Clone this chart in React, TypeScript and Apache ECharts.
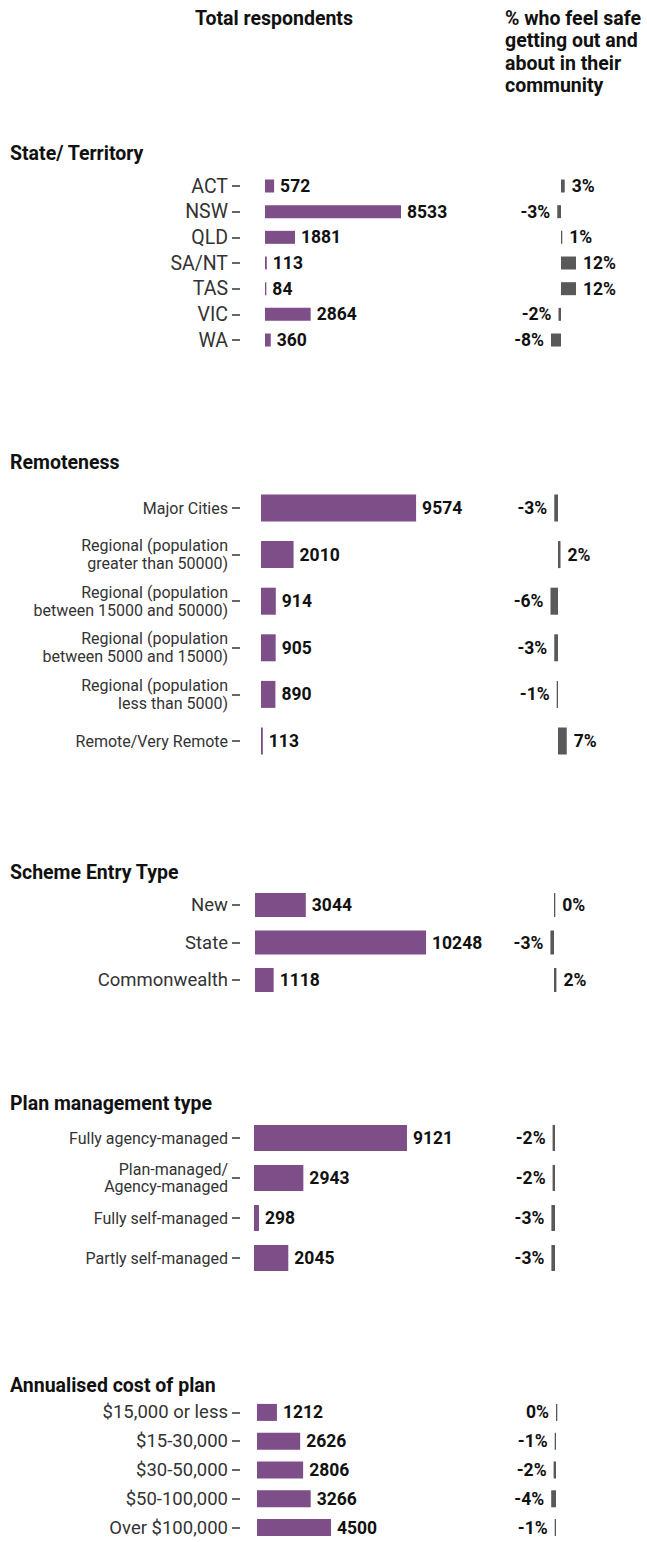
import React, { useEffect, useRef } from 'react';
import * as echarts from 'echarts';

// ---- Data ----
const stateCategories = ['ACT', 'NSW', 'QLD', 'SA/NT', 'TAS', 'VIC', 'WA'];
const stateCounts = [572, 8533, 1881, 113, 84, 2864, 360];
const statePct = [3, -3, 1, 12, 12, -2, -8];

const remoteCategories = [
  'Major Cities',
  'Regional (population\ngreater than 50000)',
  'Regional (population\nbetween 15000 and 50000)',
  'Regional (population\nbetween 5000 and 15000)',
  'Regional (population\nless than 5000)',
  'Remote/Very Remote',
];
const remoteCounts = [9574, 2010, 914, 905, 890, 113];
const remotePct = [-3, 2, -6, -3, -1, 7];

const entryCategories = ['New', 'State', 'Commonwealth'];
const entryCounts = [3044, 10248, 1118];
const entryPct = [0, -3, 2];

const planCategories = ['Fully agency-managed', 'Plan-managed/\nAgency-managed', 'Fully self-managed', 'Partly self-managed'];
const planCounts = [9121, 2943, 298, 2045];
const planPct = [-2, -2, -3, -3];

const costCategories = ['$15,000 or less', '$15-30,000', '$30-50,000', '$50-100,000', 'Over $100,000'];
const costCounts = [1212, 2626, 2806, 3266, 4500];
const costPct = [0, -1, -2, -4, -1];

const sectionTitles = ['State/ Territory', 'Remoteness', 'Scheme Entry Type', 'Plan management type', 'Annualised cost of plan'];
const headerLeft = 'Total respondents';
const headerRight = '% who feel safe\ngetting out and\nabout in their\ncommunity';

// ---- Layout (styles / positions only) ----
const layouts = [
  { titleY: 153, firstRow: 186, step: 25.67, barH: 13, barStart: 265, ppu: 0.01594, labelSize: 19.5, lineH: 20, pctZero: 561, pctScale: 1.25, zeroSide: 'right' },
  { titleY: 462, firstRow: 508, step: 46.6, barH: 27, barStart: 261, ppu: 0.0162, labelSize: 16, lineH: 18, pctZero: 558, pctScale: 1.25, zeroSide: 'right' },
  { titleY: 872, firstRow: 905, step: 37.5, barH: 24, barStart: 255, ppu: 0.01669, labelSize: 18.5, lineH: 20, pctZero: 554, pctScale: 1.2, zeroSide: 'right' },
  { titleY: 1103, firstRow: 1138, step: 40, barH: 26, barStart: 254, ppu: 0.01677, labelSize: 16, lineH: 17, pctZero: 555, pctScale: 1.2, zeroSide: 'left' },
  { titleY: 1385, firstRow: 1413, step: 30, barH: 17, barStart: 257, ppu: 0.01644, labelSize: 18.5, lineH: 20, pctZero: 556, pctScale: 1.2, zeroSide: 'left' },
];

const sections = [
  { cats: stateCategories, counts: stateCounts, pct: statePct },
  { cats: remoteCategories, counts: remoteCounts, pct: remotePct },
  { cats: entryCategories, counts: entryCounts, pct: entryPct },
  { cats: planCategories, counts: planCounts, pct: planPct },
  { cats: costCategories, counts: costCounts, pct: costPct },
];

const FONT = 'Roboto, "Liberation Sans", Arial, sans-serif';
const PURPLE = '#7d4e87';
const GREY = '#595959';
const AXIS_X = 240;
const VALUE_SIZE = 17.5;
const TITLE_SIZE = 19.5;

export default function App() {
  const ref = useRef<HTMLDivElement>(null);

  useEffect(() => {
    const chart = echarts.init(ref.current!, null, { renderer: 'svg' });
    const grid: any[] = [];
    const xAxis: any[] = [];
    const yAxis: any[] = [];
    const series: any[] = [];
    const graphic: any[] = [
      { type: 'text', x: 274, y: 18, style: { text: headerLeft, font: `bold ${TITLE_SIZE}px ${FONT}`, fill: '#111', align: 'center', verticalAlign: 'middle' } },
      { type: 'text', x: 505, y: 7, style: { text: headerRight, font: `bold ${TITLE_SIZE}px ${FONT}`, fill: '#111', align: 'left', verticalAlign: 'top', lineHeight: 22.5 } },
    ];

    sections.forEach((sec, i) => {
      const L = layouts[i];
      const n = sec.cats.length;
      const top = L.firstRow - L.step / 2;
      const height = n * L.step;
      graphic.push({
        type: 'text', x: 10, y: L.titleY,
        style: { text: sectionTitles[i], font: `bold ${TITLE_SIZE}px ${FONT}`, fill: '#111', verticalAlign: 'middle' },
      });

      // counts grid: axis line at AXIS_X, value 0 at barStart
      const cw = 240;
      const minV = -(L.barStart - AXIS_X) / L.ppu;
      grid.push({ left: AXIS_X, top, width: cw, height });
      xAxis.push({ gridIndex: grid.length - 1, type: 'value', min: minV, max: minV + cw / L.ppu, show: false });
      yAxis.push({
        gridIndex: grid.length - 1, type: 'category', data: sec.cats, inverse: true,
        axisLine: { show: false, onZero: false },
        axisTick: { show: true, length: 8, interval: 0, alignWithLabel: true, lineStyle: { color: '#333', width: 1.5 } },
        axisLabel: { interval: 0, margin: 12, color: '#333', fontFamily: FONT, fontSize: L.labelSize, lineHeight: L.lineH, align: 'right' },
      });
      series.push({
        type: 'bar', xAxisIndex: xAxis.length - 1, yAxisIndex: yAxis.length - 1,
        data: sec.counts, barWidth: L.barH, itemStyle: { color: PURPLE },
        label: { show: true, position: 'right', distance: 6, fontFamily: FONT, fontWeight: 'bold', fontSize: VALUE_SIZE, color: '#111' },
      });

      // percent grid
      const pw = 40 * L.pctScale;
      grid.push({ left: L.pctZero - pw / 2, top, width: pw, height });
      xAxis.push({ gridIndex: grid.length - 1, type: 'value', min: -20, max: 20, show: false });
      yAxis.push({ gridIndex: grid.length - 1, type: 'category', data: sec.cats, inverse: true, show: false });
      series.push({
        type: 'bar', xAxisIndex: xAxis.length - 1, yAxisIndex: yAxis.length - 1,
        barWidth: L.barH, barMinHeight: 1.3, itemStyle: { color: GREY },
        data: sec.pct.map((v) => ({
          value: v,
          label: { position: v > 0 ? 'right' : v < 0 ? 'left' : L.zeroSide },
        })),
        label: {
          show: true, distance: 7, fontFamily: FONT, fontWeight: 'bold', fontSize: VALUE_SIZE, color: '#111',
          formatter: (p: any) => `${p.value}%`,
        },
      });
    });

    chart.setOption({ animation: false, backgroundColor: '#fff', grid, xAxis, yAxis, series, graphic });
    return () => chart.dispose();
  }, []);

  return <div ref={ref} style={{ position: 'absolute', left: 0, top: 0, width: 647, height: 1542 }} />;
}
